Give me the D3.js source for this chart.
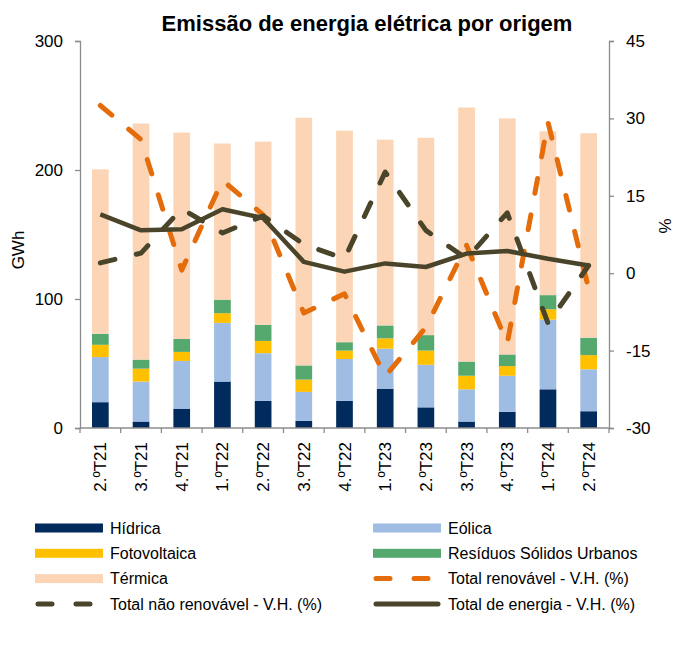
<!DOCTYPE html>
<html>
<head>
<meta charset="utf-8">
<script src="https://cdn.jsdelivr.net/npm/d3@7"></script>
<style>
  body { margin: 0; background: #fff; }
  text { font-family: "Liberation Sans", Arial, sans-serif; fill: #000; }
</style>
</head>
<body>
<div id="chart"></div>
<script>
// Emissão de energia elétrica por origem

const quarters = ["2.ºT21", "3.ºT21", "4.ºT21", "1.ºT22", "2.ºT22", "3.ºT22", "4.ºT22",
                  "1.ºT23", "2.ºT23", "3.ºT23", "4.ºT23", "1.ºT24", "2.ºT24"];

// GWh
const hidrica      = [20, 5, 15, 36, 21, 5.5, 21, 30.5, 16, 5, 12.5, 30, 13];
const eolica       = [35, 31, 37, 45.5, 37, 22.5, 32.5, 31, 33, 25, 28, 54, 32.5];
const fotovoltaica = [9.5, 10, 7, 7.5, 9.5, 9.5, 6.5, 8, 11, 10.5, 7.5, 8, 11];
const rsu          = [8.5, 7, 10, 10.5, 12.5, 11, 6.5, 10, 12, 11, 9, 11, 13.5];
const termica      = [127.5, 183, 160, 121, 142, 192, 164, 144, 153, 197, 183, 127, 158.5];

// V.H. (%)
const varRenovavel    = [32.5, 25.9, 0.6, 18, 11.3, -7.7, -4, -20, -10.5, 5.4, -13.6, 29.3, -3];
const varNaoRenovavel = [2.0, 3.9, 12.5, 7.8, 11.1, 5.6, 2.8, 19.6, 8.3, 2.8, 11.7, -9.7, 1.5];
const varTotal        = [11.4, 8.3, 8.5, 12.4, 10.7, 2.2, 0.3, 1.9, 1.2, 3.8, 4.3, 2.8, 1.5];

const leftTicks = [0, 100, 200, 300];
const rightTicks = [-30, -15, 0, 15, 30, 45];

const width = 677, height = 666;
const margin = {left: 80, right: 68, top: 41, bottom: 238};
const axisColor = "#8c8c8c";

const svg = d3.select("#chart")
  .append("svg")
    .attr("width", width)
    .attr("height", height);

// scales
const x = d3.scaleBand()
  .domain(quarters)
  .range([margin.left, width - margin.right])
  .paddingInner(0.59)
  .paddingOuter(0.295);

const y = d3.scaleLinear()
  .domain([0, 300])
  .range([height - margin.bottom, margin.top]);

const y2 = d3.scaleLinear()
  .domain([-30, 45])
  .range([height - margin.bottom, margin.top]);

// stacked bars
const series = [
  {name: "Hídrica", values: hidrica, color: "#002B5C"},
  {name: "Eólica", values: eolica, color: "#9FBDE3"},
  {name: "Fotovoltaica", values: fotovoltaica, color: "#FFC000"},
  {name: "Resíduos Sólidos Urbanos", values: rsu, color: "#55A86E"},
  {name: "Térmica", values: termica, color: "#FBD5B5"}
];

const table = quarters.map((q, i) => {
  const row = {q};
  series.forEach(s => row[s.name] = s.values[i]);
  return row;
});

const stacked = d3.stack().keys(series.map(s => s.name))(table);

svg.append("g")
  .selectAll("g")
  .data(stacked)
  .join("g")
    .attr("fill", (d, i) => series[i].color)
  .selectAll("rect")
  .data(d => d)
  .join("rect")
    .attr("x", d => x(d.data.q))
    .attr("y", d => y(d[1]))
    .attr("width", x.bandwidth())
    .attr("height", d => y(d[0]) - y(d[1]));

// axes (plain hyphen for negatives, as in the original)
const fmt = d => String(d);

const yAxis = svg.append("g")
  .attr("transform", `translate(${margin.left},0)`)
  .call(d3.axisLeft(y).tickValues(leftTicks).tickFormat(fmt).tickSize(5).tickPadding(12));

const y2Axis = svg.append("g")
  .attr("transform", `translate(${width - margin.right},0)`)
  .call(d3.axisRight(y2).tickValues(rightTicks).tickFormat(fmt).tickSize(5).tickPadding(12));

[yAxis, y2Axis].forEach(g => {
  g.select(".domain").attr("stroke", axisColor).attr("stroke-width", 1.3);
  g.selectAll(".tick line").attr("stroke", axisColor).attr("stroke-width", 1.3);
  g.selectAll(".tick text")
    .style("font-family", "'Liberation Sans', Arial, sans-serif")
    .style("font-size", "17px")
    .attr("fill", "#000");
});

// category axis: ticks between the bands
const x0 = height - margin.bottom;
const bottom = svg.append("g");
bottom.append("line")
  .attr("x1", margin.left).attr("x2", width - margin.right)
  .attr("y1", x0).attr("y2", x0)
  .attr("stroke", axisColor).attr("stroke-width", 1.3);

const bounds = d3.range(quarters.length + 1).map(i => margin.left + i * x.step());
bottom.selectAll(".xt")
  .data(bounds)
  .join("line")
    .attr("x1", d => d).attr("x2", d => d)
    .attr("y1", x0).attr("y2", x0 + 5)
    .attr("stroke", axisColor).attr("stroke-width", 1.3);

bottom.selectAll(".xl")
  .data(quarters)
  .join("text")
    .attr("transform", d => `translate(${x(d) + x.bandwidth() / 2 + 6},${x0 + 14}) rotate(-90)`)
    .attr("text-anchor", "end")
    .style("font-size", "17px")
    .text(d => d);

// lines
const line = d3.line()
  .x((d, i) => x(quarters[i]) + x.bandwidth() / 2)
  .y(d => y2(d));

svg.append("path")
  .datum(varRenovavel)
  .attr("d", line)
  .attr("fill", "none")
  .attr("stroke", "#E46C0A")
  .attr("stroke-width", 5)
  .attr("stroke-linecap", "round")
  .attr("stroke-linejoin", "round")
  .attr("stroke-dasharray", "15,22");

svg.append("path")
  .datum(varNaoRenovavel)
  .attr("d", line)
  .attr("fill", "none")
  .attr("stroke", "#4A452A")
  .attr("stroke-width", 5)
  .attr("stroke-linecap", "round")
  .attr("stroke-linejoin", "round")
  .attr("stroke-dasharray", "15,22");

svg.append("path")
  .datum(varTotal)
  .attr("d", line)
  .attr("fill", "none")
  .attr("stroke", "#4A452A")
  .attr("stroke-width", 4.5)
  .attr("stroke-linejoin", "round");

// titles
svg.append("text")
  .attr("x", 367).attr("y", 31)
  .attr("text-anchor", "middle")
  .style("font-size", "22px")
  .style("font-weight", "bold")
  .text("Emissão de energia elétrica por origem");

svg.append("text")
  .attr("transform", "translate(24,250) rotate(-90)")
  .attr("text-anchor", "middle")
  .style("font-size", "17px")
  .text("GWh");

svg.append("text")
  .attr("transform", "translate(671,226) rotate(-90)")
  .attr("text-anchor", "middle")
  .style("font-size", "17px")
  .text("%");

// legend
const legendItems = [
  {name: "Hídrica", color: "#002B5C", type: "bar"},
  {name: "Eólica", color: "#9FBDE3", type: "bar"},
  {name: "Fotovoltaica", color: "#FFC000", type: "bar"},
  {name: "Resíduos Sólidos Urbanos", color: "#55A86E", type: "bar"},
  {name: "Térmica", color: "#FBD5B5", type: "bar"},
  {name: "Total renovável - V.H. (%)", color: "#E46C0A", type: "dash"},
  {name: "Total não renovável - V.H. (%)", color: "#4A452A", type: "dash"},
  {name: "Total de energia - V.H. (%)", color: "#4A452A", type: "solid"}
];

const legend = svg.append("g")
  .selectAll("g")
  .data(legendItems)
  .join("g")
    .attr("transform", (d, i) => `translate(${i % 2 === 0 ? 35 : 373},${528 + Math.floor(i / 2) * 25.3})`);

legend.filter(d => d.type === "bar")
  .append("rect")
    .attr("x", 0).attr("y", -4.5)
    .attr("width", 68).attr("height", 9)
    .attr("fill", d => d.color);

legend.filter(d => d.type !== "bar")
  .append("line")
    .attr("x1", 3).attr("x2", 65)
    .attr("y1", 0).attr("y2", 0)
    .attr("stroke", d => d.color)
    .attr("stroke-width", 5)
    .attr("stroke-linecap", "round")
    .attr("stroke-dasharray", d => d.type === "dash" ? "14,24" : null);

legend.append("text")
  .attr("x", 75)
  .attr("y", 0)
  .attr("dy", "0.35em")
  .style("font-size", "16px")
  .text(d => d.name);
</script>
</body>
</html>
